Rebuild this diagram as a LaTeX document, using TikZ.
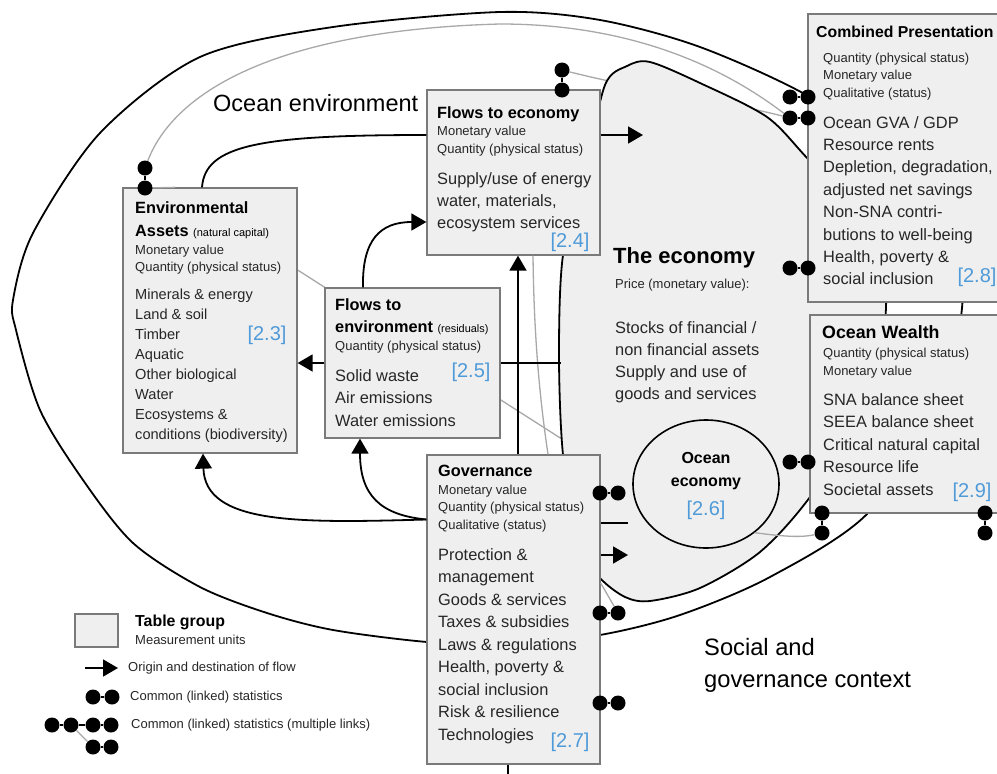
\documentclass[tikz,border=0pt]{standalone}
\usepackage{fontspec}
\setmainfont{Liberation Sans}
\usetikzlibrary{arrows.meta,shapes.geometric,backgrounds}

\definecolor{boxfill}{HTML}{EFEFEF}
\definecolor{boxline}{HTML}{7A7A7A}
\definecolor{linkgray}{HTML}{A8A8A8}
\definecolor{tagblue}{HTML}{4F9AD8}
\definecolor{txtdark}{HTML}{262626}

\begin{document}
\begin{tikzpicture}[x=1pt, y=-1pt,
    tbl/.style={draw=boxline, fill=boxfill, line width=1.3pt, inner sep=0pt},
    ttl/.style={anchor=north west, inner sep=0pt, align=left, text=black, font=\fontsize{16.3}{23}\selectfont\bfseries},
    unit/.style={anchor=north west, inner sep=0pt, align=left, text=txtdark, font=\fontsize{13}{17.5}\selectfont},
    item/.style={anchor=north west, inner sep=0pt, align=left, text=txtdark, font=\fontsize{16.4}{22.4}\selectfont},
    tag/.style={inner sep=0pt, text=tagblue, font=\fontsize{20}{20}\selectfont},
    ctx/.style={anchor=north west, inner sep=0pt, align=left, text=black, font=\fontsize{23.5}{32}\selectfont},
    dot/.style={circle, fill=black, inner sep=0pt, minimum size=15pt},
    link/.style={line width=2pt},
    glink/.style={draw=linkgray, line width=1.3pt},
    conn/.style={line width=1.8pt},
    flow/.style={conn, -{Triangle[length=15pt,width=17pt]}}]

    \useasboundingbox (0,0) rectangle (997,774);
    \clip (0,0) rectangle (997,774);

    % Table groups
    \node[tbl, minimum width=174pt, minimum height=265pt] (envA) at (210,320.5) {};
    \node[tbl, minimum width=173pt, minimum height=165pt] (toEco) at (513.5,172.5) {};
    \node[tbl, minimum width=175pt, minimum height=150pt] (toEnv) at (412.5,363) {};
    \node[tbl, minimum width=173pt, minimum height=309pt] (gov) at (513.5,609.5) {};
    \node[tbl, minimum width=202pt, minimum height=288pt] (comb) at (909,158) {};
    \node[tbl, minimum width=200pt, minimum height=198pt] (wealth) at (910,414) {};
    \node[ellipse, draw, fill=boxfill, line width=1.6pt, minimum width=146pt, minimum height=128pt] (oecon) at (706,484) {};

    % Environmental assets
    \node[ttl] (envA-h) at (135,201) {Environmental\\Assets {\mdseries\fontsize{11}{11}\selectfont(natural capital)}};
    \node[unit] (envA-u) at (135,244.4) {Monetary value\\Quantity (physical status)};
    \node[item, font=\fontsize{14.6}{20}\selectfont] (envA-i) at (135,288.7) {Minerals \& energy\\Land \& soil\\Timber\\Aquatic\\Other biological\\Water\\Ecosystems \&\\conditions (biodiversity)};
    \node[tag] (envA-n) at (267,335) {[2.3]};

    % Flows to economy
    \node[ttl] (toEco-h) at (437,106) {Flows to economy};
    \node[unit, font=\fontsize{13}{18}\selectfont] (toEco-u) at (437,125.4) {Monetary value\\Quantity (physical status)};
    \node[item, font=\fontsize{16.4}{22}\selectfont] (toEco-i) at (437,172) {Supply/use of energy\\water, materials,\\ecosystem services};
    \node[tag] (toEco-n) at (570,242) {[2.4]};

    % Flows to environment
    \node[ttl, font=\fontsize{16.3}{22}\selectfont\bfseries] (toEnv-h) at (335,298) {Flows to\\environment {\mdseries\fontsize{10.9}{11}\selectfont(residuals)}};
    \node[unit] (toEnv-u) at (335,340.4) {Quantity (physical status)};
    \node[item, font=\fontsize{16.4}{22.5}\selectfont] (toEnv-i) at (335,369) {Solid waste\\Air emissions\\Water emissions};
    \node[tag] (toEnv-n) at (471,372) {[2.5]};

    % Governance
    \node[ttl] (gov-h) at (438,465) {Governance};
    \node[unit] (gov-u) at (438,484.4) {Monetary value\\Quantity (physical status)\\Qualitative (status)};
    \node[item, font=\fontsize{16.4}{22.5}\selectfont] (gov-i) at (438,548) {Protection \&\\management\\Goods \& services\\Taxes \& subsidies\\Laws \& regulations\\Health, poverty \&\\social inclusion\\Risk \& resilience\\Technologies};
    \node[tag] (gov-n) at (570,742) {[2.7]};

    % Combined presentation
    \node[ttl, font=\fontsize{15.8}{20}\selectfont\bfseries] (comb-h) at (816,26) {Combined Presentation};
    \node[unit] (comb-u) at (823,52.4) {Quantity (physical status)\\Monetary value\\Qualitative (status)};
    \node[item] (comb-i) at (823,116) {Ocean GVA / GDP\\Resource rents\\Depletion, degradation,\\adjusted net savings\\Non-SNA contri-\\butions to well-being\\Health, poverty \&\\social inclusion};
    \node[tag] (comb-n) at (977,277) {[2.8]};

    % Ocean wealth
    \node[ttl, font=\fontsize{17.8}{22}\selectfont\bfseries] (wealth-h) at (822,325.3) {Ocean Wealth};
    \node[unit, font=\fontsize{13}{18}\selectfont] (wealth-u) at (823,347.4) {Quantity (physical status)\\Monetary value};
    \node[item, font=\fontsize{16.4}{22.5}\selectfont] (wealth-i) at (823,393) {SNA balance sheet\\SEEA balance sheet\\Critical natural capital\\Resource life\\Societal assets};
    \node[tag] (wealth-n) at (972,492) {[2.9]};

    % The economy and the ocean economy
    \node[ttl, font=\fontsize{22}{26}\selectfont\bfseries] (eco-h) at (613,247.5) {The economy};
    \node[unit] (eco-u) at (615,278.4) {Price (monetary value):};
    \node[item, font=\fontsize{16.4}{22.3}\selectfont] (eco-i) at (615,321) {Stocks of financial /\\non financial assets\\Supply and use of\\goods and services};
    \node[anchor=north, inner sep=0pt, align=center, font=\fontsize{16}{23}\selectfont\bfseries] (oecon-h) at (706,452) {Ocean\\economy};
    \node[tag] (oecon-n) at (706,510) {[2.6]};

    % Context labels
    \node[anchor=west, inner sep=0pt, font=\fontsize{23.5}{28}\selectfont] (envLbl) at (213,103) {Ocean environment};
    \node[ctx, font=\fontsize{23.7}{32}\selectfont] (socLbl) at (704,638) {Social and\\governance context};

    % Legend
    \node[tbl, minimum width=43pt, minimum height=33pt] (legBox) at (96.5,630.5) {};
    \node[ttl, font=\fontsize{15.9}{20}\selectfont\bfseries] (legBox-h) at (135,615) {Table group};
    \node[unit] (legBox-u) at (135,634.4) {Measurement units};
    \coordinate (legS) at (85,668);
    \coordinate (legE) at (118,668);
    \draw[flow] (legS) -- (legE);
    \node[anchor=west, inner sep=0pt, text=txtdark, font=\fontsize{13}{15}\selectfont] (legFlow) at (128,668) {Origin and destination of flow};
    \node[anchor=west, inner sep=0pt, text=txtdark, font=\fontsize{13}{15}\selectfont] (legLink) at (130,697) {Common (linked) statistics};
    \node[anchor=west, inner sep=0pt, text=txtdark, font=\fontsize{13}{15}\selectfont] (legMulti) at (131,725) {Common (linked) statistics (multiple links)};

    % Linked statistics: pairs of dots
    \foreach \nm/\xa/\ya/\xb/\yb in {envD/145/168/145/188, ecoD/562/70/562/90,
        cmbA/790/97/808/97, cmbB/790/118/808/118, cmbC/790/268/808/268,
        govA/600/493/618/493, govB/600/613/618/613, govC/600/703/618/703,
        wlA/790/462/808/462, wlB/822/513/822/533, wlC/985/513/985/533,
        legA/93/697/112/697}{
        \node[dot] (\nm1) at (\xa,\ya) {};
        \node[dot] (\nm2) at (\xb,\yb) {};
        \draw[link] (\nm1) -- (\nm2);
    }
    \foreach \nm/\xa/\ya in {lm1/52/725, lm2/71/725, lm3/93/725, lm4/111/725, lm5/93/747, lm6/111/747}
        \node[dot] (\nm) at (\xa,\ya) {};
    \draw[glink] (lm2) -- (lm5);
    \draw[link] (lm1) -- (lm2) (lm2) -- (lm3) (lm3) -- (lm4) (lm5) -- (lm6);

    % Ocean environment boundary and economy, behind the tables
    \begin{pgfonlayer}{background}
        \draw[glink] (ecoD1) .. controls (650,92) and (720,100) .. (cmbB1);
        \draw[glink] ([yshift=50.5pt]envA.east) -- (oecon.west);
        \draw[conn, fill=boxfill] plot[smooth cycle, tension=0.5] coordinates {
            (563,255) (559,355) (563,455) (578,545) (600,578) (625,597) (650,601)
            (700,588) (760,552) (810,497) (865,410) (886,308) (872,225) (809,160)
            (767,117) (700,83) (650,62) (627,66) (605,85) (585,170)};
        \draw[conn] plot[smooth cycle, tension=0.5] coordinates {
            (500,12) (600,20) (700,47) (810,97) (905,165) (955,240) (962,308)
            (940,400) (868,513) (770,577) (680,615) (600,635) (510,645) (427,642)
            (333,630) (267,613) (200,587) (133,543) (83,480) (40,410) (16,330)
            (13,300) (33,233) (100,133) (200,57) (333,27)};
    \end{pgfonlayer}

    % Gray links between common statistics
    \draw[glink] (envD1) .. controls (175,90) and (280,30) .. (500,24) .. controls (650,24) and (740,80) .. (cmbB1);
    \draw[glink] (envD2) -- ([xshift=-35pt]envA.north);
    \draw[glink] ([xshift=19.5pt]toEco.south) .. controls (534,340) and (540,400) .. ([xshift=34.5pt]gov.north);
    \draw[glink] ([yshift=26.5pt]gov.east) -- (govB2);
    \draw[glink] (wlB2) .. controls (800,538) and (780,536) .. (oecon.-45);

    % Flows
    \coordinate (ecoIn) at (643,135);
    \coordinate (ecoL) at (561,363);
    \coordinate (oeconL) at (628,523);
    \coordinate (ecoGov) at (628,555);
    \coordinate (govOut) at (508,780);
    \draw[conn] ([xshift=-8pt]envA.north) .. controls (205,145) and (260,135) .. ([yshift=37.5pt]toEco.west);
    \draw[flow] ([yshift=37.5pt]toEco.east) -- (ecoIn);
    \draw[flow] (toEnv.west) -- (toEnv.west -| envA.east);
    \draw[flow] ([xshift=-49.5pt]toEnv.north) .. controls (362,240) and (380,222) .. ([yshift=-49.5pt]toEco.west);
    \draw[conn] (toEnv.east) -- (ecoL);
    \draw[flow] ([xshift=4.5pt]gov.north) -- ([xshift=4.5pt]toEco.south);
    \draw[flow] ([yshift=90pt]gov.west) .. controls (380,515) and (360,495) .. ([xshift=-52.5pt]toEnv.south);
    \draw[flow] ([yshift=90pt]gov.west) .. controls (300,523) and (205,525) .. ([xshift=-7pt]envA.south);
    \draw[conn] ([yshift=86.5pt]gov.east) -- (oeconL);
    \draw[flow] ([yshift=54.5pt]gov.east) -- (ecoGov);
    \draw[conn] ([xshift=-5.5pt]gov.south) -- (govOut);
\end{tikzpicture}
\end{document}
